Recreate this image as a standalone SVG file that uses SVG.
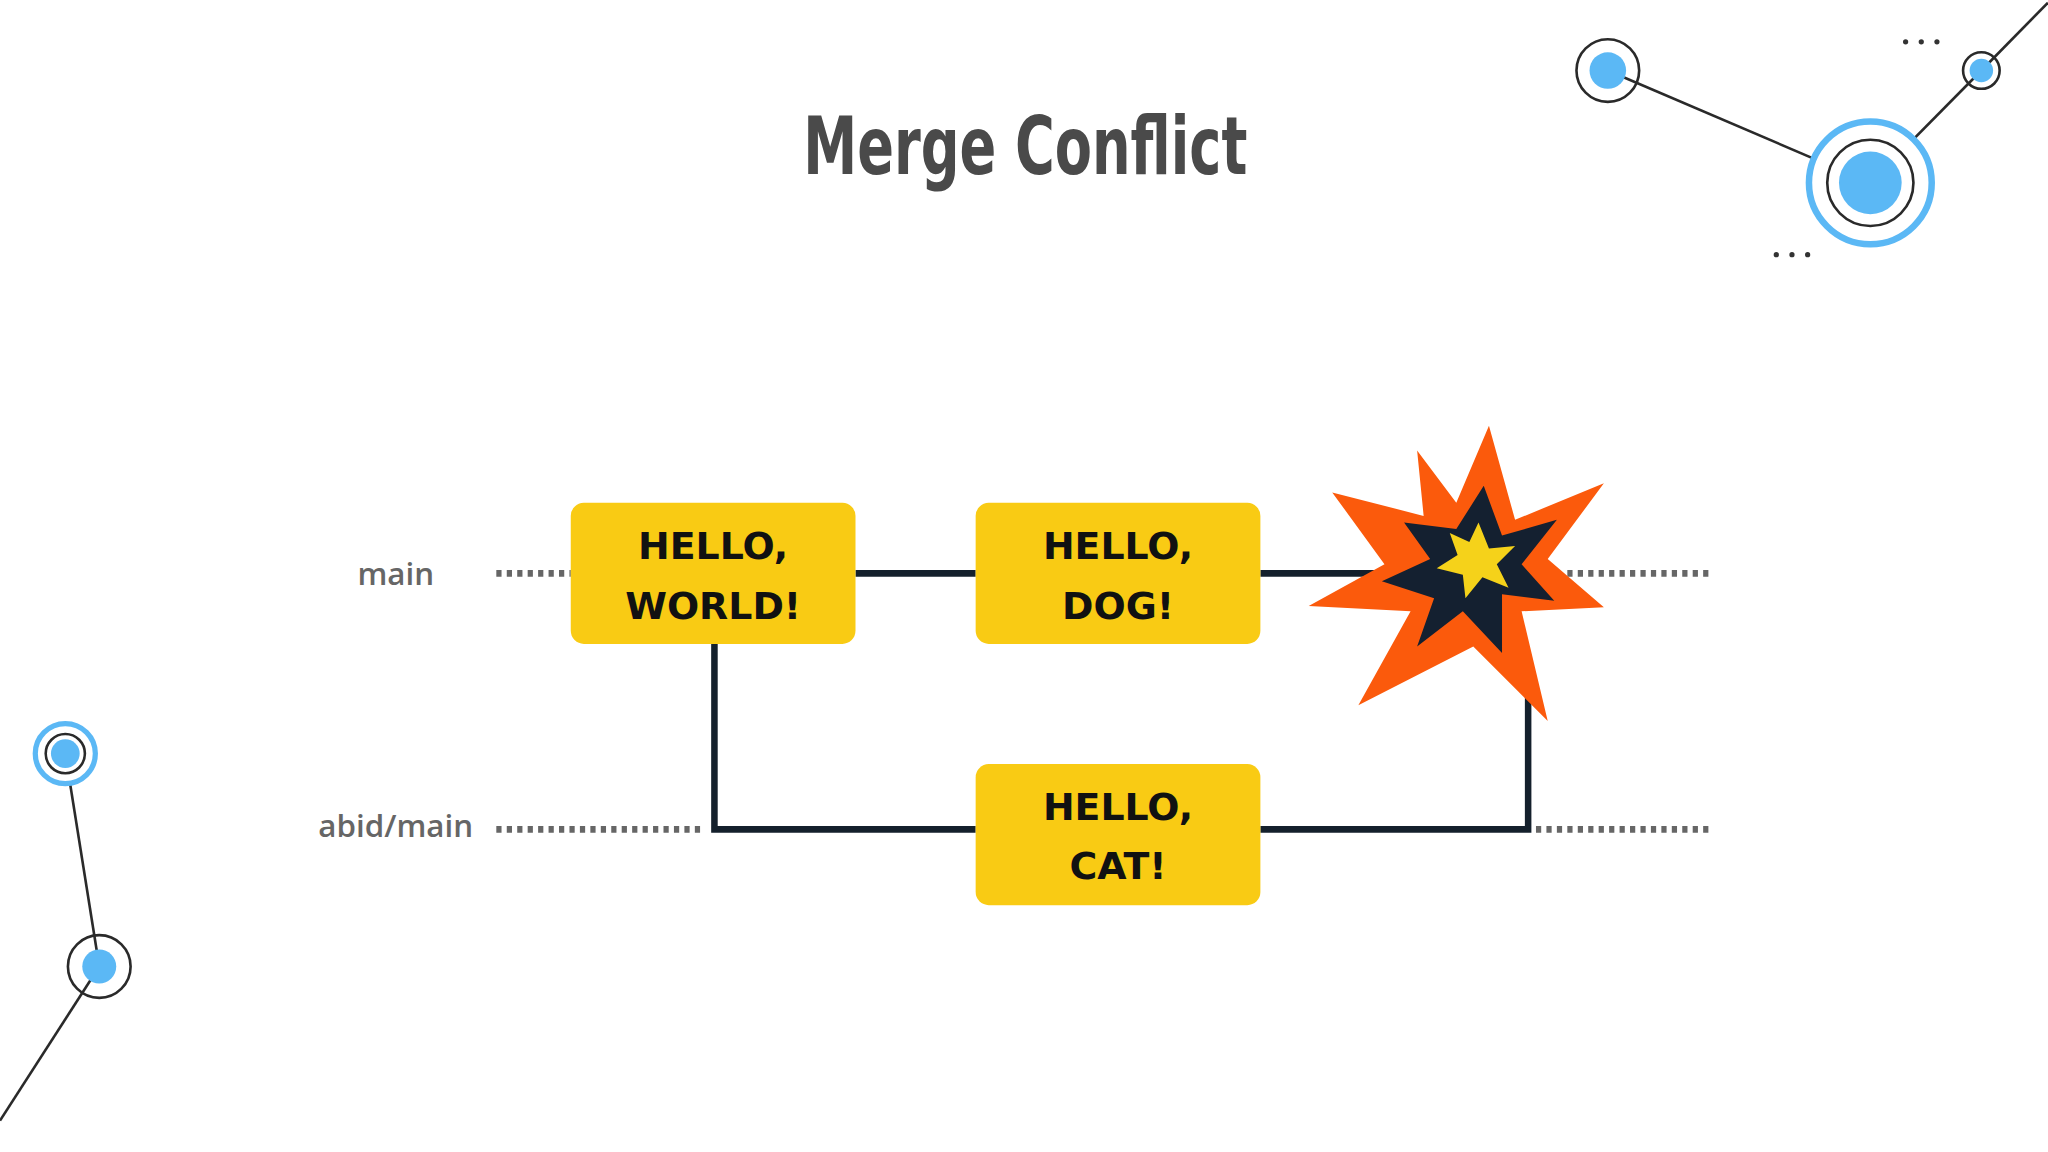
<svg xmlns="http://www.w3.org/2000/svg" width="2048" height="1152" viewBox="0 0 2048 1152">
<style>
.dk{fill:none;stroke:#2a2a2a;stroke-width:2}
.bl{fill:#5bb8f5}
.box{fill:#f9cb14}
.bt{font-family:"DejaVu Sans",sans-serif;font-weight:900;font-size:29px;fill:#111;text-anchor:middle}
.lb{font-family:"Open Sans","DejaVu Sans",sans-serif;font-weight:600;font-size:24px;fill:#666}
.dot{stroke:#666;stroke-width:5;stroke-dasharray:4 4;fill:none}
.ln{stroke:#14202c;stroke-width:5;fill:none}
</style>
<rect width="2048" height="1152" fill="#fff"/>
<g transform="scale(1.3061)">
<text x="785" y="133" font-family="'DejaVu Sans Condensed','Liberation Sans Narrow','DejaVu Sans',sans-serif" font-stretch="condensed" font-weight="bold" font-size="62" fill="#4a4a4a" text-anchor="middle" textLength="340" lengthAdjust="spacingAndGlyphs">Merge Conflict</text>
<g id="deco-tr">
<line x1="1231" y1="54" x2="1432" y2="140" class="dk"/>
<line x1="1432" y1="140" x2="1517" y2="54" class="dk"/>
<line x1="1517" y1="54" x2="1568" y2="2" class="dk"/>
<circle cx="1231" cy="54" r="24" fill="#fff" class="dk"/><circle cx="1231" cy="54" r="14" class="bl"/>
<circle cx="1432" cy="140" r="47" fill="#fff" stroke="#5bb8f5" stroke-width="5"/>
<circle cx="1432" cy="140" r="33" fill="#fff" class="dk"/><circle cx="1432" cy="140" r="24" class="bl"/>
<circle cx="1517" cy="54" r="14" fill="#fff" class="dk"/><circle cx="1517" cy="54" r="9" class="bl"/>
<g fill="#333"><circle cx="1459" cy="32" r="2"/><circle cx="1471" cy="32" r="2"/><circle cx="1483" cy="32" r="2"/>
<circle cx="1360" cy="195" r="2"/><circle cx="1372" cy="195" r="2"/><circle cx="1384" cy="195" r="2"/></g>
</g>
<g id="deco-bl">
<line x1="50" y1="577" x2="76" y2="740" class="dk"/>
<line x1="76" y1="740" x2="0" y2="858" class="dk"/>
<circle cx="50" cy="577" r="23" fill="#fff" stroke="#5bb8f5" stroke-width="4"/>
<circle cx="50" cy="577" r="15" fill="#fff" class="dk"/><circle cx="50" cy="577" r="11" class="bl"/>
<circle cx="76" cy="740" r="24" fill="#fff" class="dk"/><circle cx="76" cy="740" r="13" class="bl"/>
</g>
<g id="connectors">
<line x1="380" y1="439" x2="437" y2="439" class="dot"/>
<line x1="380" y1="635" x2="540" y2="635" class="dot"/>
<line x1="1200" y1="439" x2="1312" y2="439" class="dot"/>
<line x1="1176" y1="635" x2="1312" y2="635" class="dot"/>
<line x1="655" y1="439" x2="747" y2="439" class="ln"/>
<line x1="965" y1="439" x2="1060" y2="439" class="ln"/>
<polyline points="547,493 547,635 747,635" class="ln"/>
<polyline points="965,635 1170,635 1170,530" class="ln"/>
</g>
<text class="lb" x="303" y="448" text-anchor="middle">main</text>
<text class="lb" x="303" y="641" text-anchor="middle">abid/main</text>
<g id="n1"><rect class="box" x="437" y="385" width="218" height="108" rx="10"/><text class="bt" x="546" y="428">HELLO,</text><text class="bt" x="546" y="474">WORLD!</text></g>
<g id="n2"><rect class="box" x="747" y="385" width="218" height="108" rx="10"/><text class="bt" x="856" y="428">HELLO,</text><text class="bt" x="856" y="474">DOG!</text></g>
<g id="n3"><rect class="box" x="747" y="585" width="218" height="108" rx="10"/><text class="bt" x="856" y="628">HELLO,</text><text class="bt" x="856" y="673">CAT!</text></g>
<g id="boom">
<polygon fill="#fb5a0c" points="1140,326 1160,398 1228,370 1185,428 1228,465 1165,468 1185,552 1128,495 1040,540 1080,468 1002,464 1060,432 1020,377 1090,395 1085,345 1115,385"/>
<polygon fill="#142030" points="1136,372 1150,410 1192,398 1165,432 1190,460 1150,455 1150,500 1120,468 1085,495 1098,458 1058,445 1095,428 1075,400 1115,405"/>
<polygon fill="#f5d21a" points="1132,400 1140,420 1160,418 1146,432 1155,450 1135,442 1122,458 1120,440 1100,435 1116,425 1110,408 1125,415"/>
</g>
</g>
</svg>
